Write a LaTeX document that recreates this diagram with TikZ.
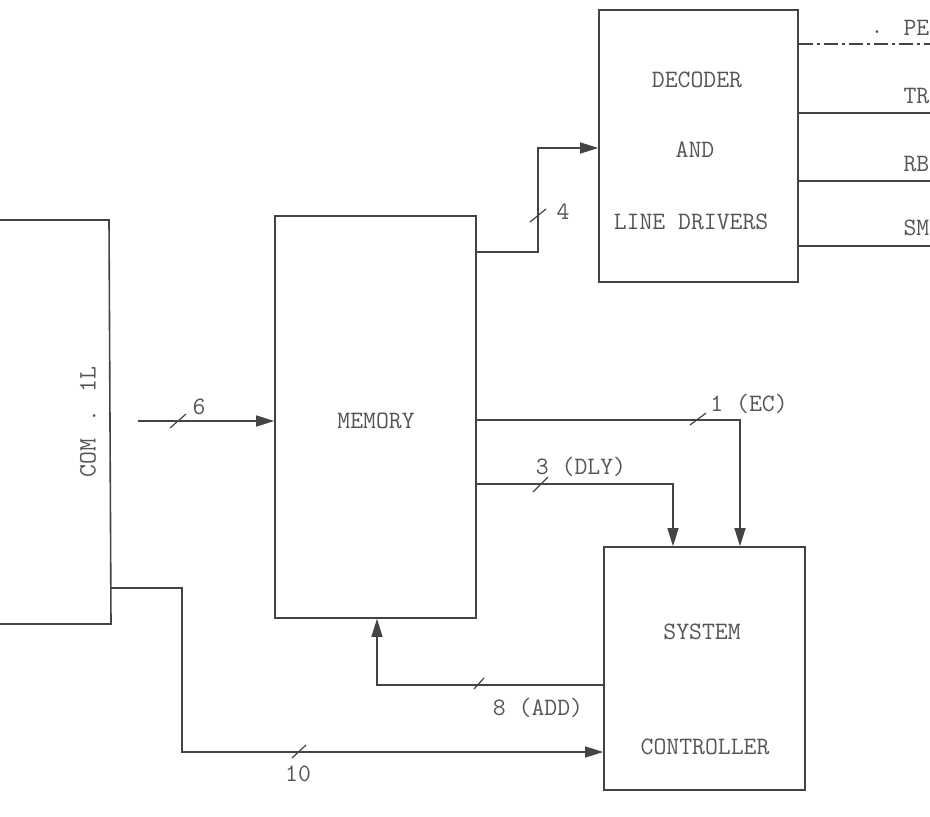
\documentclass[tikz,border=0pt]{standalone}
\usetikzlibrary{arrows.meta}
\definecolor{ink}{HTML}{444444}
\definecolor{txt}{HTML}{555555}
\begin{document}
\begin{tikzpicture}[x=1pt,y=-1pt,
  line width=1.3pt, color=ink,
  blk/.style={draw=ink, line width=1.6pt, inner sep=0pt},
  lbl/.style={text=txt, font=\ttfamily\fontsize{25}{25}\selectfont, inner sep=0pt},
  arr/.style={-{Triangle[length=18pt,width=11pt]}},
  tick/.style={line width=1.2pt}]
\useasboundingbox (0,0) rectangle (930,817);

% boxes
\node[blk, minimum width=201pt, minimum height=402pt] (mem) at (375.5,417) {};
\node[blk, minimum width=199pt, minimum height=272pt] (dec) at (698.5,146) {};
\node[blk, minimum width=201pt, minimum height=243pt] (ctl) at (704.5,668.5) {};

% box texts
\node[lbl] (tmem) at (376,421) {MEMORY};
\node[lbl] (tdec1) at (697,80) {DECODER};
\node[lbl] (tdec2) at (695,150) {AND};
\node[lbl] (tdec3) at (691,222) {LINE DRIVERS};
\node[lbl] (tctl1) at (702,632) {SYSTEM};
\node[lbl] (tctl2) at (705,747) {CONTROLLER};

% left block (open on the left)
\coordinate (lbtl) at (0,220);
\coordinate (lbtr) at (109,220);
\coordinate (lbbr) at (111,624);
\coordinate (lbbl) at (0,624);
\draw[line width=1.6pt] (lbtl) -- (lbtr) -- (lbbr) -- (lbbl);
\node[lbl, rotate=90] (tcom) at (88,422) {COM \,.\, 1L};

% 6 : left block -> memory
\coordinate (s6) at (138,421);
\draw[arr] (s6) -- (mem.west |- s6);
\draw[tick] (170,428) -- (186,414);
\node[lbl] (l6) at (199,407) {6};

% 4 : memory -> decoder
\coordinate (m4) at (mem.east |- 0,252);
\coordinate (d4) at (dec.west |- 0,148);
\draw[arr] (m4) -- (538,252) -- (538,148) -- (d4);
\draw[tick] (530,222) -- (546,209);
\node[lbl] (l4) at (563,212) {4};

% 1 (EC) : memory -> controller
\coordinate (mec) at (mem.east |- 0,420);
\draw[arr] (mec) -- (740,420) -- (ctl.north -| 740,0);
\draw[tick] (690,425) -- (706,413);
\node[lbl] (lec) at (749,404) {1 (EC)};

% 3 (DLY) : memory -> controller
\coordinate (mdly) at (mem.east |- 0,484);
\draw[arr] (mdly) -- (673,484) -- (ctl.north -| 673,0);
\draw[tick] (533,492) -- (548,477);
\node[lbl] (ldly) at (581,467) {3 (DLY)};

% 8 (ADD) : controller -> memory
\coordinate (cadd) at (ctl.west |- 0,685);
\draw[arr] (cadd) -- (377,685) -- (mem.south -| 377,0);
\draw[tick] (474,689) -- (484,678);
\node[lbl] (ladd) at (538,708) {8 (ADD)};

% 10 : left block -> controller
\coordinate (s10) at (111,588);
\draw[arr] (s10) -- (182,588) -- (182,752) -- (ctl.west |- 0,752);
\draw[tick] (292,758) -- (306,745);
\node[lbl] (l10) at (298,774) {10};

% decoder outputs
\coordinate (oPE) at (930,44);
\coordinate (oTR) at (930,113);
\coordinate (oRB) at (930,181);
\coordinate (oSM) at (930,246);
\draw[dash pattern=on 14pt off 4pt on 3pt off 4pt] (dec.east |- oPE) -- (oPE);
\draw (dec.east |- oTR) -- (oTR);
\draw (dec.east |- oRB) -- (oRB);
\draw (dec.east |- oSM) -- (oSM);
\node[lbl, anchor=east] (lPE) at (930,28) {PE};
\node[lbl, anchor=east] (lTR) at (930,96) {TR};
\node[lbl, anchor=east] (lRB) at (930,164) {RB};
\node[lbl, anchor=east] (lSM) at (930,228) {SM};
\node[lbl] (dot) at (877,32) {.};
\end{tikzpicture}
\end{document}
